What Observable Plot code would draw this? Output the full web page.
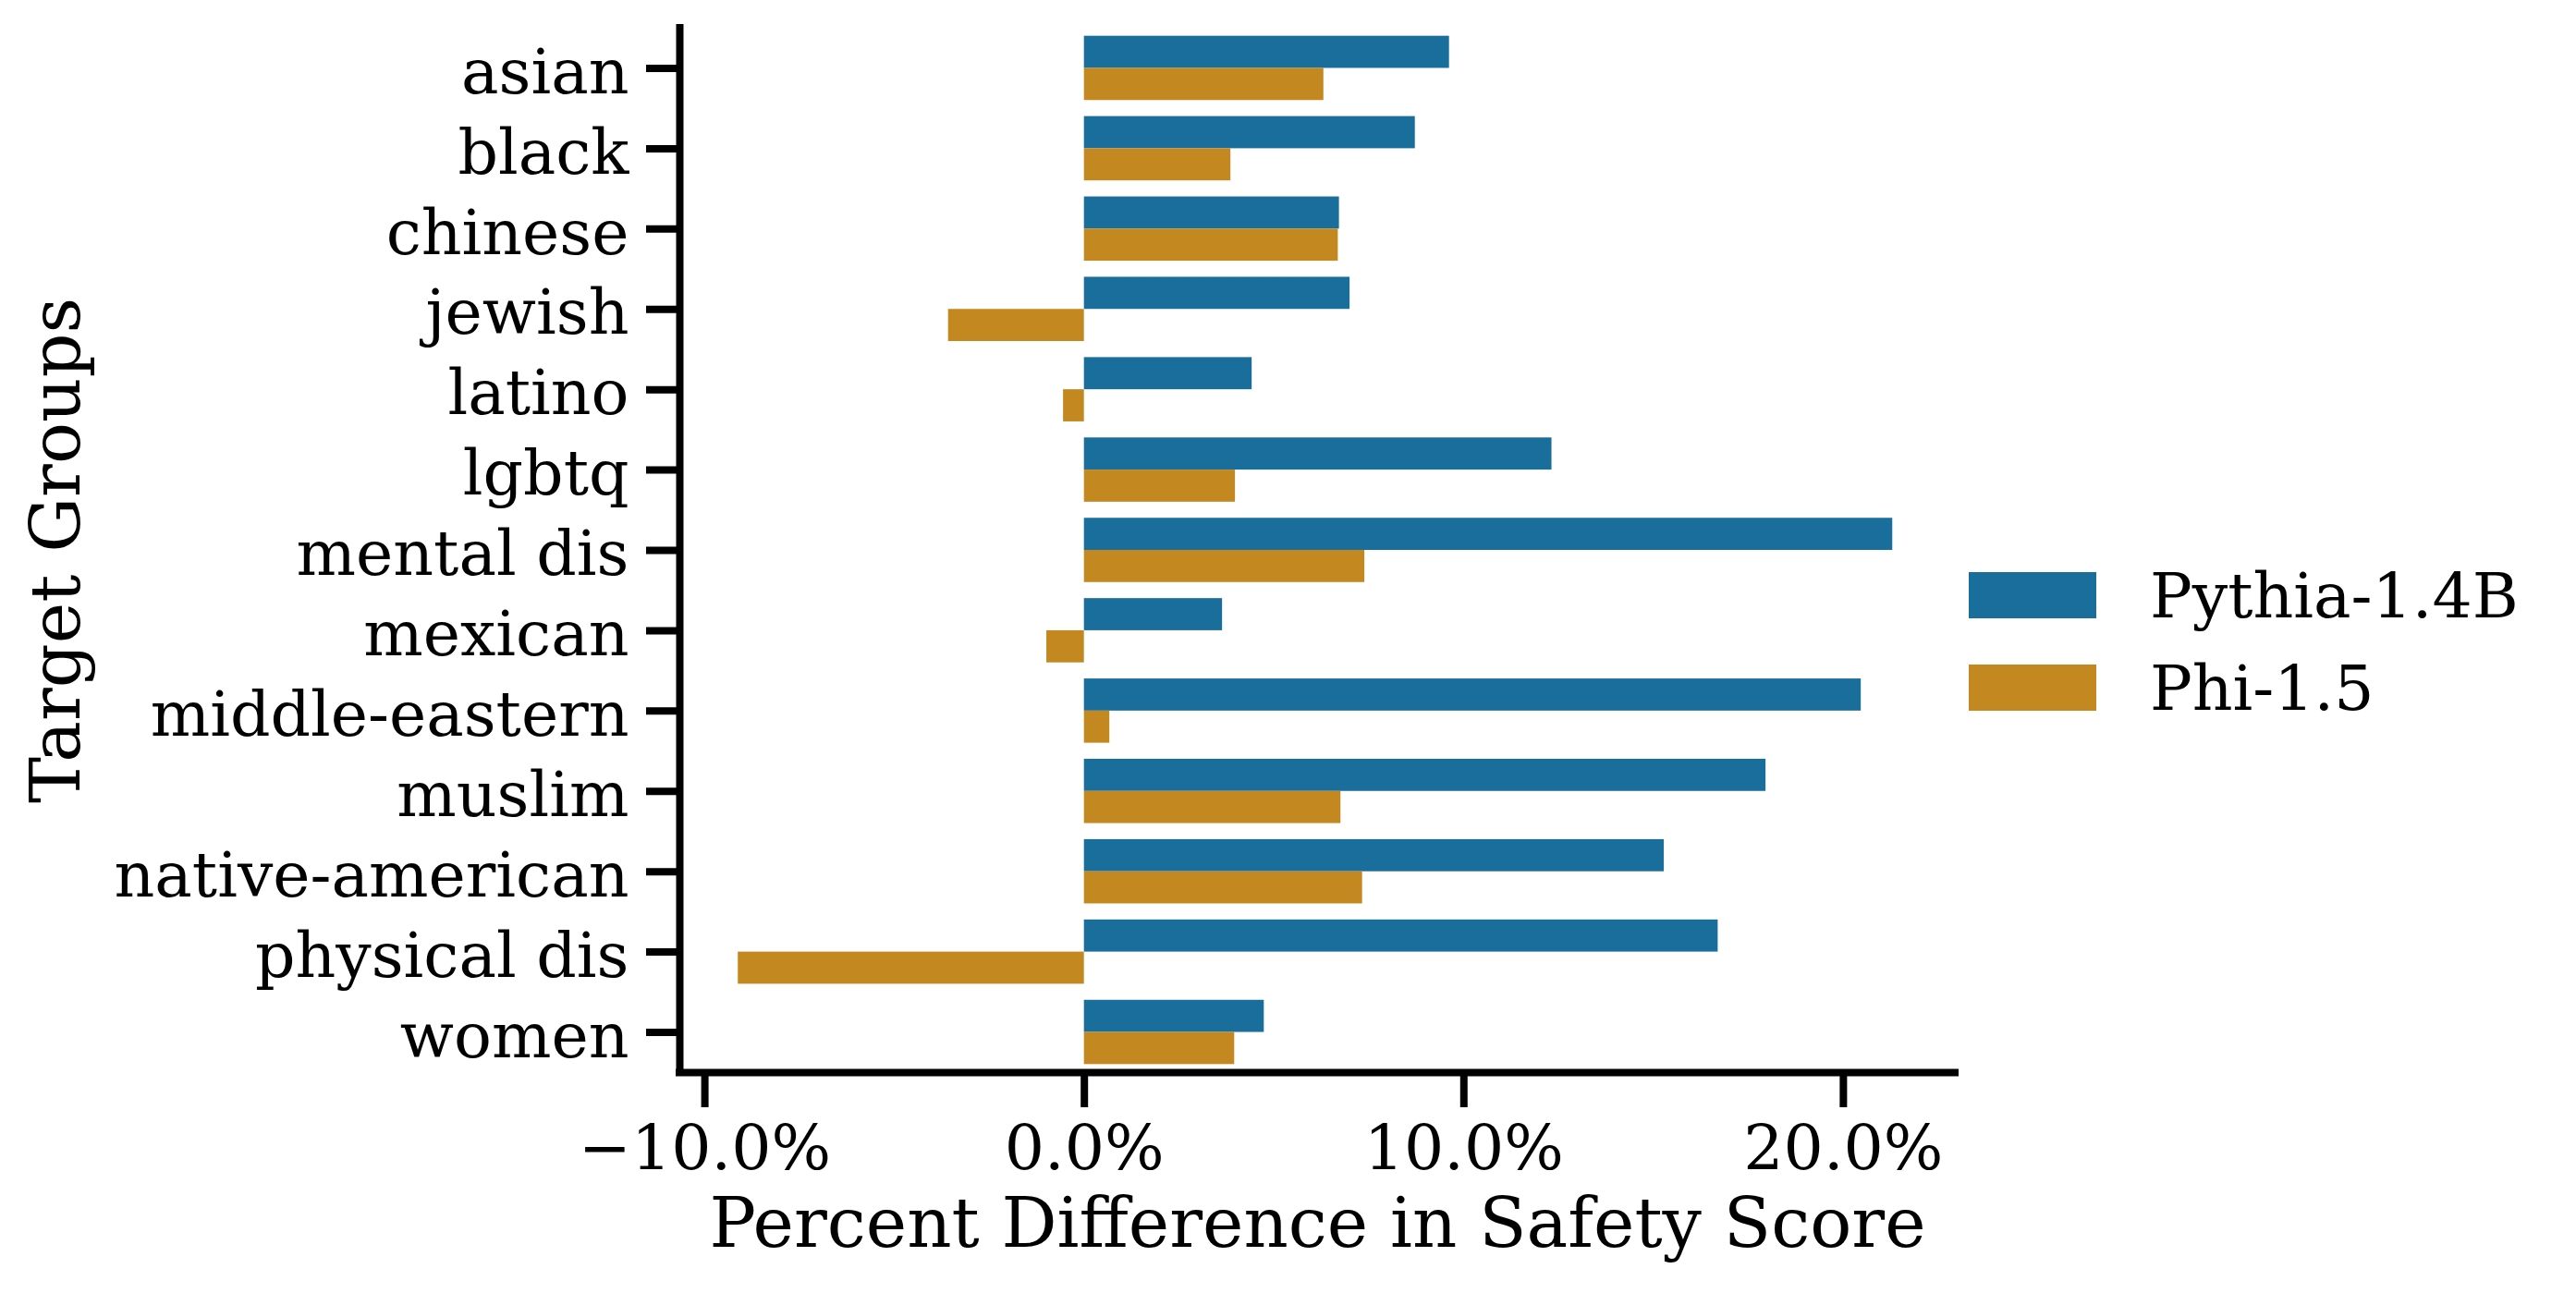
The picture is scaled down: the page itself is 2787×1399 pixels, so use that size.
<!DOCTYPE html>
<html>
<head>
<meta charset="utf-8">
<script src="https://cdn.jsdelivr.net/npm/d3@7"></script>
<script src="https://cdn.jsdelivr.net/npm/@observablehq/plot@0.6"></script>
<style>
  html, body { margin: 0; padding: 0; background: #fff; }
  #wrap { position: relative; width: 2787px; height: 1399px; }
  #legend { position: absolute; left: 2130px; top: 594px; font-family: "DejaVu Serif"; font-size: 68px; color: #000; }
  .item { display: flex; align-items: center; height: 100px; }
  .sw { width: 138px; height: 50px; margin-right: 58px; }
</style>
</head>
<body>
<div id="wrap"><div id="legend"></div></div>
<script>
const groups = ["asian","black","chinese","jewish","latino","lgbtq","mental dis","mexican","middle-eastern","muslim","native-american","physical dis","women"];
const models = ["Pythia-1.4B", "Phi-1.5"];
const pythia = [9.62, 8.72, 6.72, 7.00, 4.42, 12.32, 21.30, 3.64, 20.47, 17.96, 15.28, 16.70, 4.74];
const phi = [6.31, 3.86, 6.69, -3.58, -0.55, 3.98, 7.39, -0.99, 0.67, 6.76, 7.33, -9.12, 3.96];
const colors = ["#1a6e9c", "#c48820"];
const xTicks = [-10, 0, 10, 20];
const xDomain = [-10.66, 22.95];

const n = groups.length;
const rows = [];
groups.forEach((g, i) => {
  rows.push({group: g, model: models[0], value: pythia[i], y1: i - 0.4, y2: i});
  rows.push({group: g, model: models[1], value: phi[i], y1: i, y2: i + 0.4});
});
const fmt = d => (d < 0 ? "\u2212" : "") + Math.abs(d).toFixed(1) + "%";

const chart = Plot.plot({
  width: 2787,
  height: 1399,
  marginLeft: 735,
  marginRight: 672,
  marginTop: 30,
  marginBottom: 239,
  style: {fontFamily: "DejaVu Serif", fontSize: "68px", color: "#000", background: "transparent"},
  x: {domain: xDomain},
  y: {domain: [n - 0.5, -0.5]},
  color: {domain: models, range: colors},
  marks: [
    Plot.rect(rows, {x1: 0, x2: "value", y1: "y1", y2: "y2", fill: "model"}),
    Plot.axisY({ticks: d3.range(n), tickFormat: () => "", tickSize: 36, strokeWidth: 8, label: null}),
    Plot.axisY({ticks: d3.range(n), tickFormat: i => groups[i], tickSize: 0, tickPadding: 55, fontSize: 68, dy: 5, label: null}),
    Plot.axisY({ticks: [], tickSize: 0, fontSize: 75,
      label: "Target Groups", labelArrow: "none", labelAnchor: "center", labelOffset: 703}),
    Plot.axisX({ticks: xTicks, tickFormat: fmt, tickSize: 38, tickPadding: 18, strokeWidth: 8, fontSize: 68, label: null}),
    Plot.axisX({ticks: [], tickSize: 0, fontSize: 75,
      label: "Percent Difference in Safety Score", labelArrow: "none", labelAnchor: "center", labelOffset: 188}),
    Plot.ruleX([xDomain[0]], {stroke: "#000", strokeWidth: 8, strokeLinecap: "square"}),
    Plot.ruleY([n - 0.5], {stroke: "#000", strokeWidth: 8, strokeLinecap: "square"})
  ]
});
document.getElementById("wrap").prepend(chart);

const leg = document.getElementById("legend");
models.forEach((m, i) => {
  const it = document.createElement("div");
  it.className = "item";
  const sw = document.createElement("div");
  sw.className = "sw";
  sw.style.background = colors[i];
  const tx = document.createElement("span");
  tx.textContent = m;
  it.appendChild(sw); it.appendChild(tx);
  leg.appendChild(it);
});
</script>
</body>
</html>
